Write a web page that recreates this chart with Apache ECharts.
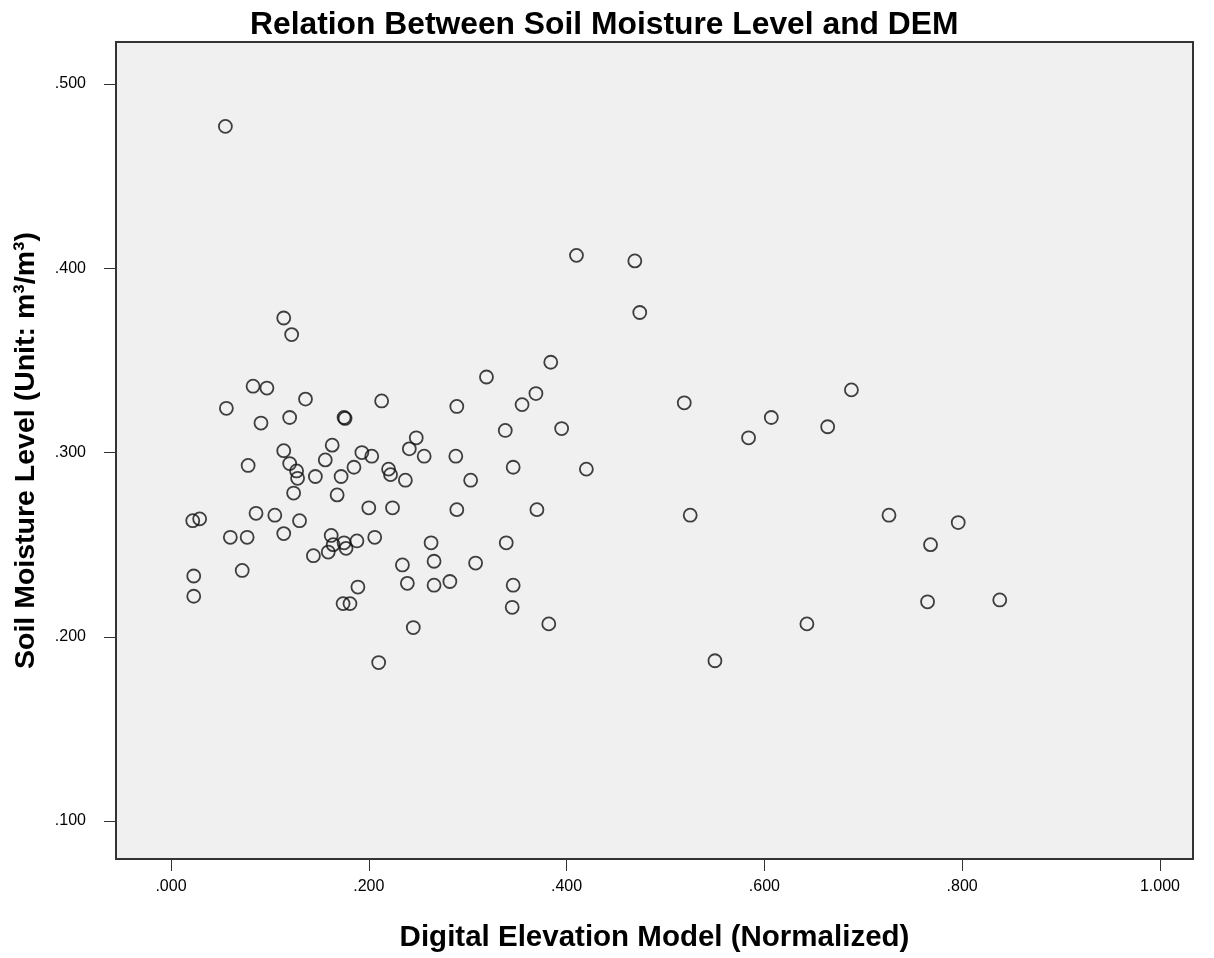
<!DOCTYPE html>
<html>
<head>
<meta charset="utf-8">
<script src="https://cdn.jsdelivr.net/npm/echarts@6/dist/echarts.min.js"></script>
<style>
html,body{margin:0;padding:0;background:#fff;}
#chart{width:1214px;height:958px;}
</style>
</head>
<body>
<div id="chart"></div>
<script>
// DEM (normalized) values
var demValues = [
 0.055,0.114,0.122,0.083,0.097,0.136,0.056,0.091,0.120,0.175,
 0.176,0.213,0.289,0.319,0.384,0.369,0.355,0.338,0.395,0.410,
 0.469,0.474,0.519,0.525,0.607,0.664,0.688,0.584,0.643,0.550,
 0.726,0.796,0.768,0.765,0.838,0.248,0.241,0.256,0.288,0.163,
 0.156,0.193,0.203,0.185,0.172,0.220,0.222,0.237,0.114,0.120,
 0.127,0.128,0.146,0.124,0.078,0.168,0.200,0.224,0.289,0.086,
 0.105,0.130,0.114,0.060,0.077,0.162,0.164,0.175,0.177,0.188,
 0.206,0.159,0.144,0.263,0.266,0.234,0.239,0.266,0.282,0.189,
 0.174,0.181,0.245,0.210,0.072,0.022,0.029,0.023,0.023,0.346,
 0.420,0.303,0.370,0.339,0.308,0.346,0.345,0.382
];
// Soil moisture level (m3/m3)
var moistureValues = [
 0.477,0.373,0.364,0.336,0.335,0.329,0.324,0.316,0.319,0.319,
 0.3185,0.328,0.325,0.341,0.349,0.332,0.326,0.312,0.313,0.407,
 0.404,0.376,0.327,0.266,0.319,0.314,0.334,0.308,0.207,0.187,
 0.266,0.262,0.250,0.219,0.220,0.308,0.302,0.298,0.298,0.304,
 0.296,0.300,0.298,0.292,0.287,0.291,0.288,0.285,0.301,0.294,
 0.290,0.286,0.287,0.278,0.293,0.277,0.270,0.270,0.269,0.267,
 0.266,0.263,0.256,0.254,0.254,0.255,0.250,0.251,0.248,0.252,
 0.254,0.246,0.244,0.251,0.241,0.239,0.229,0.228,0.230,0.227,
 0.218,0.218,0.205,0.186,0.236,0.263,0.264,0.233,0.222,0.292,
 0.291,0.285,0.269,0.251,0.240,0.228,0.216,0.207
];
var xTicks = [0, 0.2, 0.4, 0.6, 0.8, 1.0];
var yTicks = [0.1, 0.2, 0.3, 0.4, 0.5];

var titleText = 'Relation Between Soil Moisture Level and DEM';
var xName = 'Digital Elevation Model (Normalized)';
var yName = 'Soil Moisture Level (Unit: m\u00b3/m\u00b3)';

function fmt(v){
  var s = Number(v).toFixed(3);
  return s.charAt(0) === '0' ? s.slice(1) : s;
}

var points = demValues.map(function(x, i){ return [x, moistureValues[i]]; });

var chart = echarts.init(document.getElementById('chart'), null, {renderer:'canvas'});
var FONT = '"Liberation Sans", Arial, sans-serif';
chart.setOption({
  backgroundColor: '#ffffff',
  animation: false,
  title: {
    text: titleText,
    left: 245,
    top: 4,
    textStyle: {fontFamily: FONT, fontSize: 31.8, fontWeight: 'bold', color: '#000'}
  },
  grid: {
    left: 116, right: 21, top: 42, bottom: 99,
    outerBoundsMode: 'none',
    containLabel: false,
    show: true, backgroundColor: '#f0f0f0', borderColor: '#333', borderWidth: 2
  },
  xAxis: {
    type: 'value',
    min: -0.0556, max: 1.0334,
    name: xName,
    nameLocation: 'middle',
    nameGap: 64,
    nameTextStyle: {fontFamily: FONT, fontSize: 29.5, fontWeight: 'bold', color: '#000'},
    axisLine: {show: false, onZero: false},
    splitLine: {show: false},
    axisTick: {show: true, customValues: xTicks, length: 12, lineStyle: {color: '#333', width: 1}},
    axisLabel: {customValues: xTicks, formatter: fmt, margin: 20, fontFamily: FONT, fontSize: 16, color: '#000'}
  },
  yAxis: {
    type: 'value',
    min: 0.0794, max: 0.5228,
    name: yName,
    nameLocation: 'middle',
    nameGap: 75,
    nameTextStyle: {fontFamily: FONT, fontSize: 28.5, fontWeight: 'bold', color: '#000'},
    axisLine: {show: false, onZero: false},
    splitLine: {show: false},
    axisTick: {show: true, customValues: yTicks, length: 12, lineStyle: {color: '#333', width: 1}},
    axisLabel: {customValues: yTicks, formatter: fmt, margin: 30, fontFamily: FONT, fontSize: 16, color: '#000'}
  },
  series: [{
    type: 'scatter',
    data: points,
    symbol: 'circle',
    symbolSize: 13,
    itemStyle: {color: 'rgba(0,0,0,0)', borderColor: '#111', borderWidth: 1.8},
    silent: true
  }]
});
</script>
</body>
</html>
